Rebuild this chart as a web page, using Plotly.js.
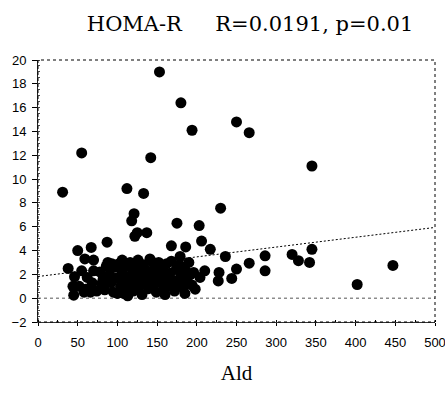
<!DOCTYPE html>
<html>
<head>
<meta charset="utf-8">
<script src="https://cdn.plot.ly/plotly-3.0.1.min.js"></script>
<style>html,body{margin:0;padding:0;background:#fff;}#chart{width:445px;height:395px;}</style>
</head>
<body>
<div id="chart"></div>
<script>
// Ald (x) values
const aldX = [
  31,55,112,133,142,153,180,194,250,266,345,
  230,121,118,175,203,125,137,122,87,206,217,168,186,50,67,236,59,70,179,38,46,44,45,62,60,74,82,86,
  198,286,266,286,250,244,228,227,210,204,196,320,328,345,342,447,402,
  78,80,84,90,92,95,97,99,
  102,104,106,108,110,112,114,116,118,120,122,124,
  126,127,129,131,133,135,137,139,141,143,145,147,149,
  151,152,154,156,158,160,162,164,166,168,170,172,174,
  176,178,180,183,185,188,190,192,194,
  100,113,88,131,145,160,185,140,117,150,163,125,93,106,68,70,55,52,58,66
];
// HOMA-R (y) values
const homaY = [
  8.9,12.2,9.2,8.8,11.8,19.0,16.4,14.1,14.8,13.9,11.1,
  7.56,7.1,6.5,6.3,6.1,5.5,5.5,5.2,4.7,4.8,4.1,4.4,4.3,4.0,4.26,3.5,3.3,3.2,3.5,2.5,1.8,1.0,0.25,1.74,0.76,0.6,1.6,2.7,
  0.76,3.56,2.94,2.3,2.44,1.66,2.16,1.45,2.3,1.74,2.16,3.67,3.15,4.1,3.0,2.75,1.15,
  2.2,1.2,0.7,2.0,1.3,0.5,2.6,1.7,
  2.9,1.0,2.2,0.4,1.6,2.7,1.1,3.0,2.0,0.6,1.5,2.5,
  3.2,1.0,2.0,0.3,2.8,1.4,2.3,0.8,3.3,1.8,1.1,2.6,0.5,
  2.0,3.0,1.3,2.4,0.7,1.7,2.9,1.0,2.1,3.1,1.5,0.6,2.4,
  1.2,2.8,1.9,0.9,2.4,1.4,3.0,2.0,1.1,
  0.4,0.2,3.0,1.7,3.0,0.3,0.4,2.0,1.3,1.6,1.9,0.9,2.9,3.2,1.3,2.3,2.3,1.0,0.5,0.5
];
// regression line end points
const fitX = [0, 500];
const fitY = [1.82, 5.94];
const xTicks = [0,50,100,150,200,250,300,350,400,450,500];
const yTicks = [-2,0,2,4,6,8,10,12,14,16,18,20];

const traces = [
  {x: fitX, y: fitY, mode: 'lines', line: {color: '#000', width: 1, dash: '2px,2px'}, hoverinfo: 'skip'},
  {x: aldX, y: homaY, mode: 'markers', marker: {color: '#000', size: 11}}
];

const layout = {
  width: 445, height: 395,
  margin: {l: 38, r: 10, t: 60, b: 73},
  paper_bgcolor: '#fff', plot_bgcolor: '#fff',
  showlegend: false,
  title: {text: 'HOMA-R\u00a0\u00a0\u00a0\u00a0\u00a0R=0.0191, p=0.01', font: {family: 'DejaVu Serif, Liberation Serif, serif', size: 21, color: '#000'}, x: 0.562, xanchor: 'center', y: 0.94, yanchor: 'middle'},
  xaxis: {
    range: [0, 500], tickvals: xTicks, ticktext: xTicks.map(String),
    ticks: 'outside', ticklen: 3, tickcolor: '#000', ticklabelstandoff: 5,
    ticklabeloverflow: 'allow',
    minor: {dtick: 25, ticks: 'inside', ticklen: 2, tickcolor: '#000'},
    showgrid: false, zeroline: false, showline: true, linecolor: '#333', linewidth: 1,
    tickfont: {family: 'Liberation Sans, Arial, sans-serif', size: 13, color: '#000'},
    title: {text: 'Ald', font: {family: 'Liberation Serif, Times New Roman, serif', size: 21, color: '#000'}, standoff: 16}
  },
  yaxis: {
    range: [-2, 20], tickvals: yTicks, ticktext: yTicks.map(v => v < 0 ? '\u2212' + Math.abs(v) : String(v)),
    ticks: 'outside', ticklen: 5, tickcolor: '#000', ticklabelstandoff: 3,
    minor: {dtick: 0.5, ticks: 'inside', ticklen: 2, tickcolor: '#444'},
    showgrid: false, zeroline: false, showline: true, linecolor: '#222', linewidth: 1,
    tickfont: {family: 'Liberation Sans, Arial, sans-serif', size: 13, color: '#000'}
  },
  shapes: [
    {type: 'rect', xref: 'paper', yref: 'paper', x0: 0, x1: 1, y0: 0, y1: 1, line: {color: '#000', width: 1, dash: 'dot'}},
    {type: 'line', xref: 'paper', yref: 'y', x0: 0, x1: 1, y0: 0, y1: 0, line: {color: '#555', width: 1, dash: 'dot'}, layer: 'below'}
  ]
};

Plotly.newPlot('chart', traces, layout, {displayModeBar: false, staticPlot: true});
</script>
</body>
</html>
